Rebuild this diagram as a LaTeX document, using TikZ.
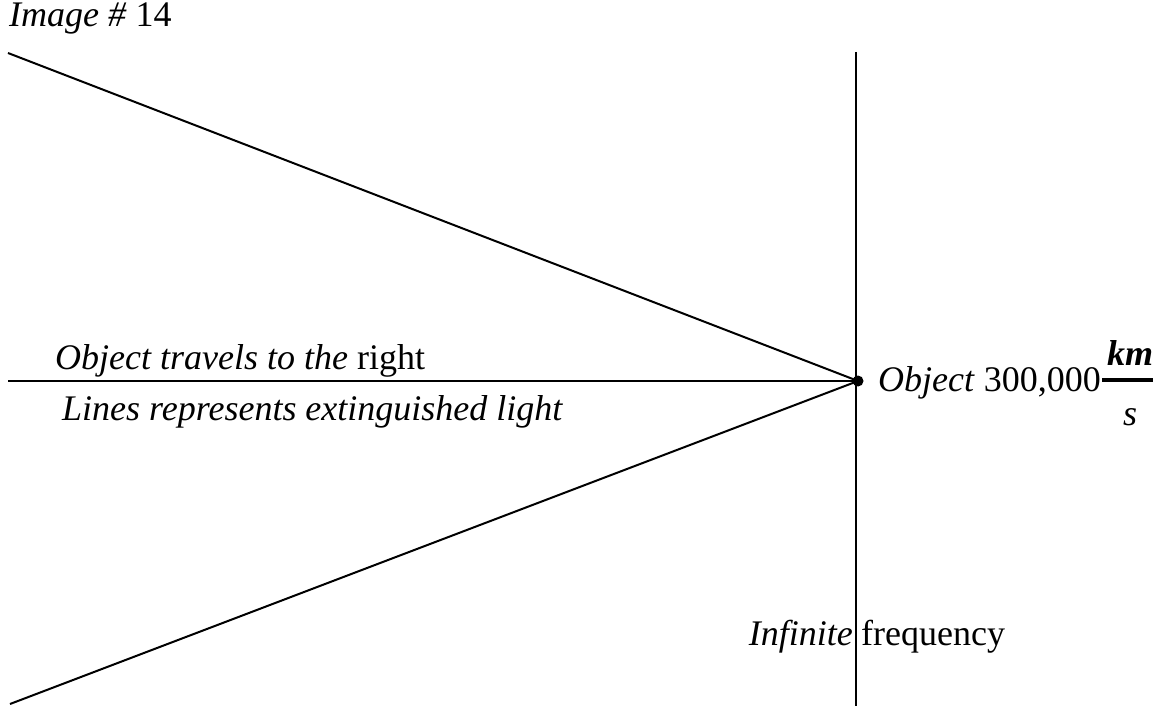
\documentclass[tikz,border=0pt]{standalone}
\usepackage{fontspec}
\setmainfont{Liberation Serif}
\usepackage{tikz}
\usetikzlibrary{positioning}

\tikzset{
  ray/.style={line width=2pt},
  lbl/.style={anchor=base west, inner sep=0pt, font=\fontsize{36}{42}\selectfont},
}

\begin{document}
\begin{tikzpicture}[x=1pt,y=-1pt]
  \useasboundingbox (0,0) rectangle (1155,706);
  % title
  \node[lbl] (title) at (9,27) {\textit{Image \#} 14};
  % object and frequency axis
  \node[circle, fill=black, inner sep=0pt, minimum size=11pt] (obj) at (858,381) {};
  \coordinate (top) at (856,52);
  \coordinate (bot) at (856,706);
  \draw[ray] (top) -- (bot);
  % extinguished light
  \coordinate (ul) at (8,53);
  \coordinate (ml) at (8,381);
  \coordinate (ll) at (10,704);
  \draw[ray] (ul) -- (obj.center);
  \draw[ray] (ml) -- (obj.center);
  \draw[ray] (ll) -- (obj.center);
  % labels
  \node[lbl] (travel) at (55,369) {\textit{Object travels to the} right};
  \node[lbl] (lines) at (62,420) {\textit{Lines represents extinguished light}};
  \node[lbl] (speed) at (878,391) {\textit{Object} 300,000};
  \node[lbl, anchor=base] (km) at (1130,365) {\textit{\textbf{km}}};
  \node[lbl, anchor=base] (sec) at (1130,425) {\textit{s}};
  \coordinate (barl) at (1102,380);
  \coordinate (barr) at (1153,380);
  \draw[line width=4pt] (barl) -- (barr);
  \node[lbl, anchor=base east] (inf) at (853,645) {\textit{Infinite}};
  \node[lbl] (freq) at (861,645) {frequency};
\end{tikzpicture}
\end{document}
